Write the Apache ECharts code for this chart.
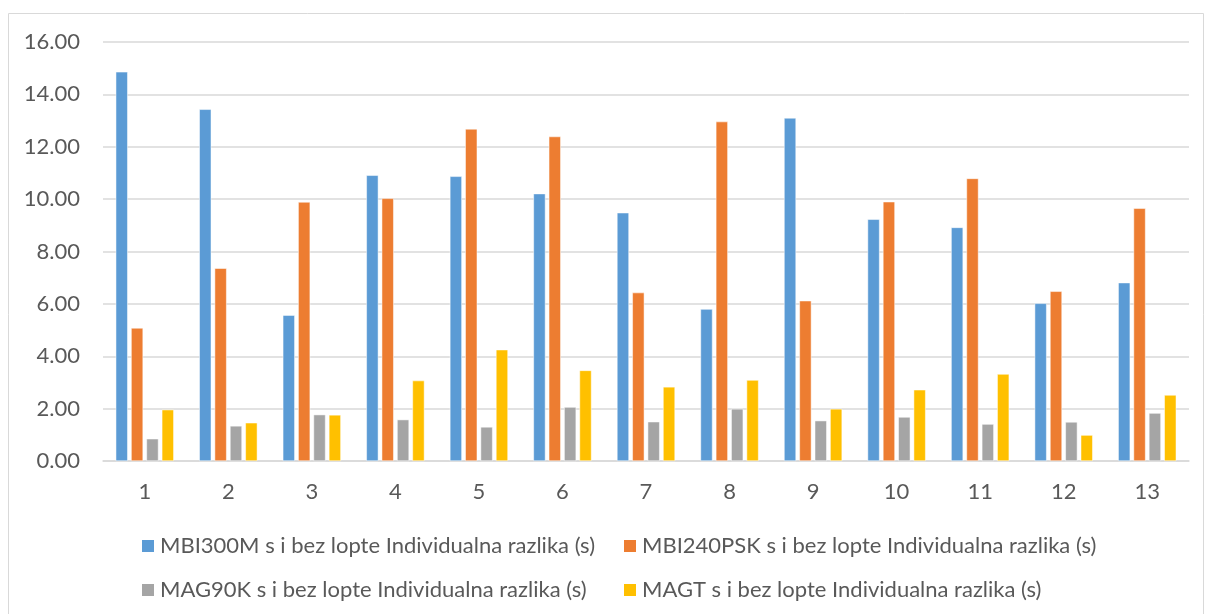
<!DOCTYPE html>
<html><head><meta charset="utf-8">
<script src="https://cdn.jsdelivr.net/npm/echarts@6/dist/echarts.min.js"></script>
<style>html,body{margin:0;padding:0;background:#fff;}#c{width:1205px;height:614px;}</style>
</head><body><div id="c"></div>
<script>
const categories = ['1','2','3','4','5','6','7','8','9','10','11','12','13'];
const seriesNames = [
  'MBI300M s i bez lopte Individualna razlika (s)',
  'MBI240PSK s i bez lopte Individualna razlika (s)',
  'MAG90K s i bez lopte Individualna razlika (s)',
  'MAGT s i bez lopte Individualna razlika (s)'
];
const mbi300m = [14.86, 13.43, 5.57, 10.91, 10.87, 10.21, 9.48, 5.80, 13.10, 9.23, 8.92, 6.02, 6.81];
const mbi240psk = [5.08, 7.36, 9.89, 10.03, 12.68, 12.39, 6.43, 12.96, 6.12, 9.90, 10.79, 6.48, 9.65];
const mag90k = [0.85, 1.34, 1.77, 1.58, 1.30, 2.06, 1.50, 1.99, 1.54, 1.68, 1.41, 1.49, 1.83];
const magt = [1.96, 1.46, 1.76, 3.07, 4.25, 3.46, 2.83, 3.09, 1.99, 2.72, 3.32, 0.99, 2.52];
const yTicks = [0, 2, 4, 6, 8, 10, 12, 14, 16];

const colors = ['#5B9BD5', '#ED7D31', '#A5A5A5', '#FFC000'];
const font = 'Lato, "Open Sans", sans-serif';
const chart = echarts.init(document.getElementById('c'), null, {renderer: 'canvas'});
const values = [mbi300m, mbi240psk, mag90k, magt];
const legendPos = [[140, 535], [622, 535], [140, 579], [622, 579]];
chart.setOption({
  animation: false,
  color: colors,
  graphic: [{type: 'rect', shape: {x: 8.5, y: 13.5, width: 1195, height: 640}, style: {fill: 'none', stroke: '#d9d9d9', lineWidth: 1}}],
  grid: {left: 103, right: 16, top: 42, bottom: 153},
  legend: legendPos.map((p, i) => ({
    data: [seriesNames[i]], left: p[0], top: p[1], padding: 0, itemWidth: 14, itemHeight: 14, itemGap: 5, icon: 'rect',
    textStyle: {fontFamily: font, fontSize: 22, color: '#595959', lineHeight: 22}
  })),
  xAxis: {
    type: 'category', data: categories,
    axisLine: {lineStyle: {color: '#d9d9d9', width: 1.5}},
    axisTick: {show: false},
    axisLabel: {fontFamily: font, fontSize: 22, color: '#595959', margin: 20}
  },
  yAxis: {
    type: 'value', min: yTicks[0], max: yTicks[yTicks.length - 1], interval: 2,
    axisLine: {show: false}, axisTick: {show: false},
    splitLine: {lineStyle: {color: '#d9d9d9', width: 1.5}},
    axisLabel: {fontFamily: font, fontSize: 22, color: '#595959', margin: 23, formatter: v => v.toFixed(2)}
  },
  series: values.map((d, i) => ({
    name: seriesNames[i], type: 'bar', data: d, barWidth: 12, barGap: '28%',
    itemStyle: {color: colors[i], borderColor: '#fff', borderWidth: 0.5}
  }))
});
</script></body></html>
